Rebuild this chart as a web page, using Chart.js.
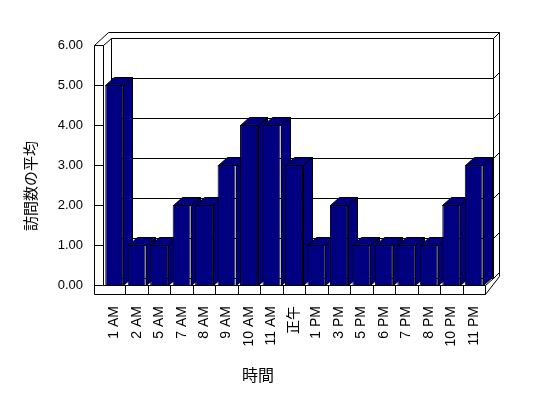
<!DOCTYPE html>
<html>
<head>
<meta charset="utf-8">
<script src="https://cdn.jsdelivr.net/npm/chart.js@4.4.1/dist/chart.umd.min.js"></script>
<style>
html, body { margin: 0; background: #fff; }
#wrap { width: 548px; height: 398px; }
</style>
</head>
<body>
<div id="wrap"><canvas id="chart"></canvas></div>
<script>
const hours = ["1 AM", "2 AM", "5 AM", "7 AM", "8 AM", "9 AM", "10 AM", "11 AM", "正午",
	"1 PM", "3 PM", "5 PM", "6 PM", "7 PM", "8 PM", "10 PM", "11 PM"];
const avgVisits = [5, 1, 1, 2, 2, 3, 4, 4, 3, 1, 2, 1, 1, 1, 1, 2, 3];
const yTicks = [0, 1, 2, 3, 4, 5, 6];
const xTitle = "時間";
const yTitle = "訪問数の平均";

const font = "'Liberation Sans', 'Noto Sans CJK JP', sans-serif";
const navy = "#000080";

// depth of walls and bars (excel style 3d look)
const wall = { x: 8, y: 7 };
const thick = { x: 6, y: 6 };
const barDepth = { x: 9, y: 8 };

function line(ctx, x1, y1, x2, y2) {
	ctx.beginPath();
	ctx.moveTo(Math.round(x1) + 0.5, Math.round(y1) + 0.5);
	ctx.lineTo(Math.round(x2) + 0.5, Math.round(y2) + 0.5);
	ctx.stroke();
}

function poly(ctx, pts) {
	ctx.beginPath();
	pts.forEach((p, i) => {
		let x = Math.round(p[0]) + 0.5, y = Math.round(p[1]) + 0.5;
		if (i == 0) ctx.moveTo(x, y); else ctx.lineTo(x, y);
	});
	ctx.closePath();
	ctx.fill();
	ctx.stroke();
}

const box3d = {
	id: "box3d",
	beforeDatasetsDraw(chart) {
		const ctx = chart.ctx;
		const a = chart.chartArea;
		const ys = chart.scales.y;
		const n = hours.length;
		const cw = (a.right - a.left) / n;
		ctx.save();
		ctx.strokeStyle = "#000";
		ctx.lineWidth = 1;
		ctx.fillStyle = "#fff";

		// back wall with gridlines
		const bl = a.left + wall.x, br = a.right + wall.x;
		const bt = a.top - wall.y, bb = a.bottom - wall.y;
		line(ctx, bl, bt, bl, bb);
		line(ctx, br, bt, br, bb);
		yTicks.forEach(v => {
			let y = ys.getPixelForValue(v);
			line(ctx, bl, y - wall.y, br, y - wall.y);
			line(ctx, br, y - wall.y, br + thick.x, y - wall.y - thick.y);
			// tick on the left wall
			line(ctx, a.left - 9, y, a.left, y);
		});
		// back wall thickness
		line(ctx, a.left - 9 + wall.x + thick.x, bt - thick.y, br + thick.x, bt - thick.y);
		line(ctx, br + thick.x, bt - thick.y, br + thick.x, bb - thick.y + 4);

		// left wall
		line(ctx, a.left - 9, a.top, a.left - 9, a.bottom + 9);
		line(ctx, a.left, a.top, a.left, a.bottom);
		line(ctx, a.left - 9, a.top, a.left, a.top);
		line(ctx, a.left, a.top, bl, bt);
		line(ctx, a.left - 9, a.top, a.left - 9 + wall.x + thick.x, bt - thick.y);

		// floor
		line(ctx, a.left, a.bottom, a.right, a.bottom);
		line(ctx, a.left - 9, a.bottom + 9, a.right, a.bottom + 9);
		line(ctx, a.right, a.bottom, br, bb);
		line(ctx, a.right, a.bottom + 9, br + thick.x, bb - thick.y + 4);
		for (let i = 1; i <= n; i++) {
			let x = a.left + i * cw;
			line(ctx, x, a.bottom, x, a.bottom + 9);
		}

		// bar tops and sides, the front faces come from chart.js on top
		ctx.fillStyle = navy;
		chart.getDatasetMeta(0).data.forEach(bar => {
			const l = bar.x - bar.width / 2, r = bar.x + bar.width / 2;
			poly(ctx, [[r, bar.y], [r + barDepth.x, bar.y - barDepth.y],
				[r + barDepth.x, bar.base - barDepth.y], [r, bar.base]]);
			poly(ctx, [[l, bar.y], [l + barDepth.x, bar.y - barDepth.y],
				[r + barDepth.x, bar.y - barDepth.y], [r, bar.y]]);
		});
		ctx.restore();
	},
	afterDraw(chart) {
		const ctx = chart.ctx;
		ctx.save();
		ctx.fillStyle = "#000";
		ctx.font = "16px " + font;
		ctx.textAlign = "center";
		ctx.textBaseline = "middle";
		ctx.fillText(xTitle, 258, 377);
		// axis title, rotated like excel does it
		ctx.font = "15px " + font;
		ctx.translate(32, 186);
		ctx.rotate(-Math.PI / 2);
		ctx.fillText(yTitle, 0, 0);
		ctx.restore();
	},
};

const data = {
	labels: hours,
	datasets: [
		{
			data: avgVisits,
			backgroundColor: navy,
			borderColor: "#000",
			borderWidth: 1,
			barPercentage: 0.8,
			categoryPercentage: 1,
		},
	],
};

const config = {
	type: "bar",
	data: data,
	options: {
		responsive: true,
		maintainAspectRatio: false,
		animation: false,
		layout: {
			padding: { left: 10, top: 45, right: 63, bottom: 0 },
		},
		plugins: {
			legend: { display: false },
			tooltip: { enabled: false },
		},
		scales: {
			x: {
				grid: { display: false, drawTicks: false },
				border: { display: false },
				ticks: {
					color: "#000",
					font: { family: font, size: 14 },
					maxRotation: 90,
					minRotation: 90,
					autoSkip: false,
					padding: 21,
				},
				afterFit: (s) => { s.height = 113; },
			},
			y: {
				min: 0,
				max: 6,
				grid: { display: false, drawTicks: false },
				border: { display: false },
				ticks: {
					color: "#000",
					stepSize: 1,
					font: { family: font, size: 13 },
					padding: 20,
					callback: (v) => v.toFixed(2),
				},
				afterFit: (s) => { s.width = 93; },
			},
		},
	},
	plugins: [box3d],
};

const chart = new Chart(document.getElementById("chart"), config);
</script>
</body>
</html>
